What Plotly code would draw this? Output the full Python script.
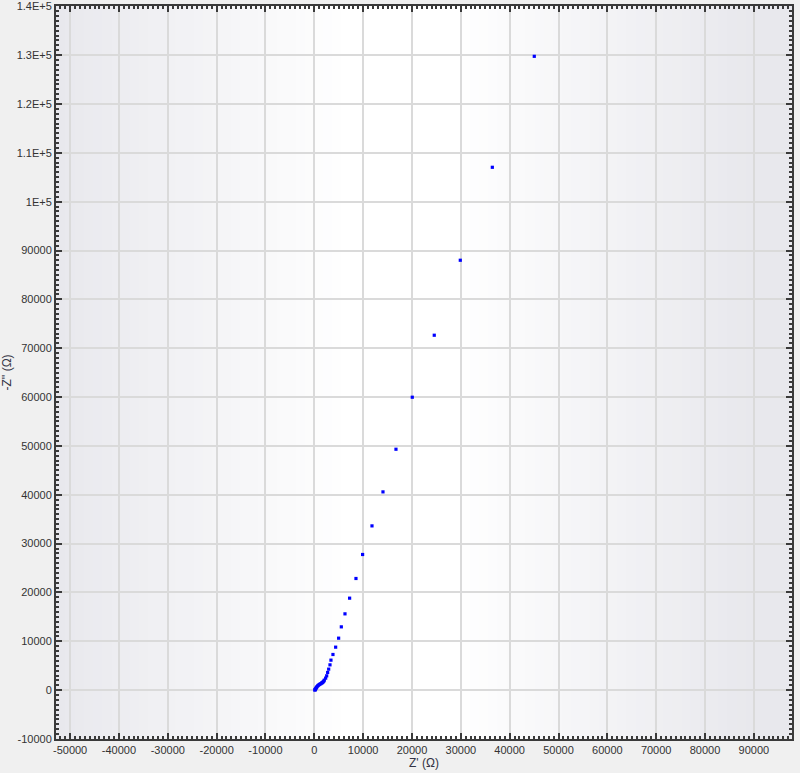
"""Nyquist plot of impedance data, Plotly."""

import plotly.graph_objects as go

# Impedance data (ohm)
z_real = [
    120, 160, 210, 280, 360, 450, 560, 690, 850, 1030, 1200, 1370, 1520, 1640,
    1780, 1920, 2050, 2320, 2530, 2730, 2940, 3210, 3410, 3820, 4370, 4980,
    5530, 6280, 7230, 8530, 9890, 11810, 14060, 16720, 20060, 24560, 29890,
    36450, 45040,
]
z_imag = [
    20, 80, 170, 290, 420, 560, 720, 880, 1020, 1150, 1260, 1350, 1460, 1560,
    1660, 1820, 2050, 2460, 2930, 3620, 4300, 5180, 6140, 7300, 8800, 10640,
    12960, 15620, 18830, 22860, 27770, 33630, 40590, 49320, 59970, 72660,
    88010, 107040, 129760,
]

x_tickvals = [-50000, -40000, -30000, -20000, -10000, 0, 10000, 20000, 30000,
              40000, 50000, 60000, 70000, 80000, 90000]
x_ticktext = [str(v) for v in x_tickvals]
y_tickvals = [-10000, 0, 10000, 20000, 30000, 40000, 50000, 60000, 70000,
              80000, 90000, 100000, 110000, 120000, 130000, 140000]
y_ticktext = ["-10000", "0", "10000", "20000", "30000", "40000", "50000",
              "60000", "70000", "80000", "90000", "1E+5", "1.1E+5", "1.2E+5",
              "1.3E+5", "1.4E+5"]

fig = go.Figure()

fig.add_trace(
    go.Scatter(
        x=z_real,
        y=z_imag,
        mode="markers",
        marker=dict(symbol="square", size=3.2, color="#0000ff"),
        showlegend=False,
    )
)

# Plot area background: grey edges fading to white in the middle
n_bands = 80
for i in range(n_bands):
    f0 = i / n_bands
    f1 = (i + 1) / n_bands
    c = (f0 + f1) / 2
    d = abs(c - 0.47) / 0.47
    d = min(1.0, max(0.0, (d - 0.15) / 0.85))
    r = round(255 - 23 * d)
    b = round(255 - 18 * d)
    fig.add_shape(
        type="rect", xref="x domain", yref="y domain",
        x0=f0, x1=f1 + 0.002, y0=0, y1=1,
        fillcolor=f"rgb({r},{r},{b})", line=dict(width=0), layer="below",
    )

axis_common = dict(
    automargin=False,
    showline=True,
    linecolor="#3a3a3a",
    linewidth=2,
    mirror="allticks",
    ticks="inside",
    ticklen=6,
    tickwidth=1.5,
    tickcolor="#3a3a3a",
    showgrid=True,
    gridcolor="#dadada",
    gridwidth=1.5,
    zeroline=False,
    tickfont=dict(family="Liberation Sans, Arial", size=11, color="#333333"),
    minor=dict(ticks="inside", ticklen=3, tickcolor="#3a3a3a", dtick=1000,
               showgrid=False),
)

fig.update_xaxes(
    range=[-52890, 97810],
    tickmode="array",
    tickvals=x_tickvals,
    ticktext=x_ticktext,
    title=dict(text="Z' (Ω)", standoff=0,
               font=dict(family="Liberation Sans, Arial", size=12,
                         color="#333344")),
    **axis_common,
)
fig.update_yaxes(
    range=[-10000, 140060],
    tickmode="array",
    tickvals=y_tickvals,
    ticktext=y_ticktext,
    title=dict(text="-Z'' (Ω)", standoff=4,
               font=dict(family="Liberation Sans, Arial", size=12,
                         color="#333344")),
    **axis_common,
)

fig.update_layout(
    width=800,
    height=773,
    paper_bgcolor="#f0f0f0",
    plot_bgcolor="#ffffff",
    margin=dict(l=56, r=8, t=6, b=34, autoexpand=False),
)

# drop the default 8px body margin so the figure fills the window
fig.write_html(
    "out.html",
    config={"displayModeBar": False},
    post_script="document.body.style.margin='0';",
)
